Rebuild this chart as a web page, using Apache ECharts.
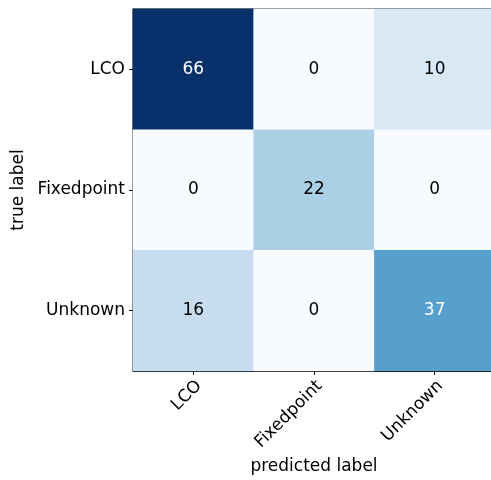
<!DOCTYPE html>
<html>
<head>
<meta charset="utf-8">
<script src="https://cdn.jsdelivr.net/npm/echarts@6/dist/echarts.min.js"></script>
<style>
  html, body { margin: 0; padding: 0; background: #fff; }
  #chart { width: 491px; height: 480px; }
</style>
</head>
<body>
<div id="chart"></div>
<script>
// Class names (same order for predicted and true axes)
const classes = ['LCO', 'Fixedpoint', 'Unknown'];
// Confusion matrix rows = true label, columns = predicted label
const rowLCO = [66, 0, 10];
const rowFixedpoint = [0, 22, 0];
const rowUnknown = [16, 0, 37];
const matrix = [rowLCO, rowFixedpoint, rowUnknown];

// Matplotlib "Blues" colormap stops
const blues = ['#f7fbff', '#deebf7', '#c6dbef', '#9ecae1', '#6baed6',
               '#4292c6', '#2171b5', '#08519c', '#08306b'];

const maxVal = Math.max(...matrix.flat());
const threshold = maxVal / 2;

const cells = [];
matrix.forEach((row, i) => {
  row.forEach((v, j) => {
    cells.push({
      value: [j, i, v],
      label: { color: v > threshold ? '#ffffff' : '#000000' }
    });
  });
});

const font = 'DejaVu Sans';
const fs = 17;
const chart = echarts.init(document.getElementById('chart'), null, { renderer: 'canvas' });
chart.setOption({
  animation: false,
  backgroundColor: '#ffffff',
  grid: {
    left: 133, top: 9, width: 362, height: 362,
    containLabel: false,
    outerBoundsMode: 'none',
    show: true, borderColor: '#000000', borderWidth: 1, backgroundColor: 'transparent'
  },
  xAxis: {
    type: 'category',
    data: classes,
    position: 'bottom',
    name: 'predicted label',
    nameLocation: 'middle',
    nameGap: 86,
    nameTextStyle: { fontFamily: font, fontSize: fs, color: '#000' },
    axisLine: { show: true, lineStyle: { color: '#000', width: 1 } },
    axisTick: { show: true, alignWithLabel: true, length: 4, lineStyle: { color: '#000' } },
    axisLabel: { rotate: 45, fontFamily: font, fontSize: fs, color: '#000', margin: 18, padding: [0, -8, 0, 0] },
    splitLine: { show: false }
  },
  yAxis: {
    type: 'category',
    data: classes,
    inverse: true,
    name: 'true label',
    nameLocation: 'middle',
    nameGap: 104,
    nameTextStyle: { fontFamily: font, fontSize: fs, color: '#000' },
    axisLine: { show: true, lineStyle: { color: '#000', width: 1 } },
    axisTick: { show: true, alignWithLabel: true, length: 4, lineStyle: { color: '#000' } },
    axisLabel: { fontFamily: font, fontSize: fs, color: '#000', margin: 8 },
    splitLine: { show: false }
  },
  visualMap: {
    show: false,
    min: 0,
    max: maxVal,
    dimension: 2,
    inRange: { color: blues }
  },
  series: [{
    type: 'heatmap',
    data: cells,
    label: {
      show: true,
      fontFamily: font,
      fontSize: fs,
      formatter: p => String(p.value[2])
    },
    itemStyle: { borderWidth: 0 },
    emphasis: { disabled: true }
  }]
});
</script>
</body>
</html>
